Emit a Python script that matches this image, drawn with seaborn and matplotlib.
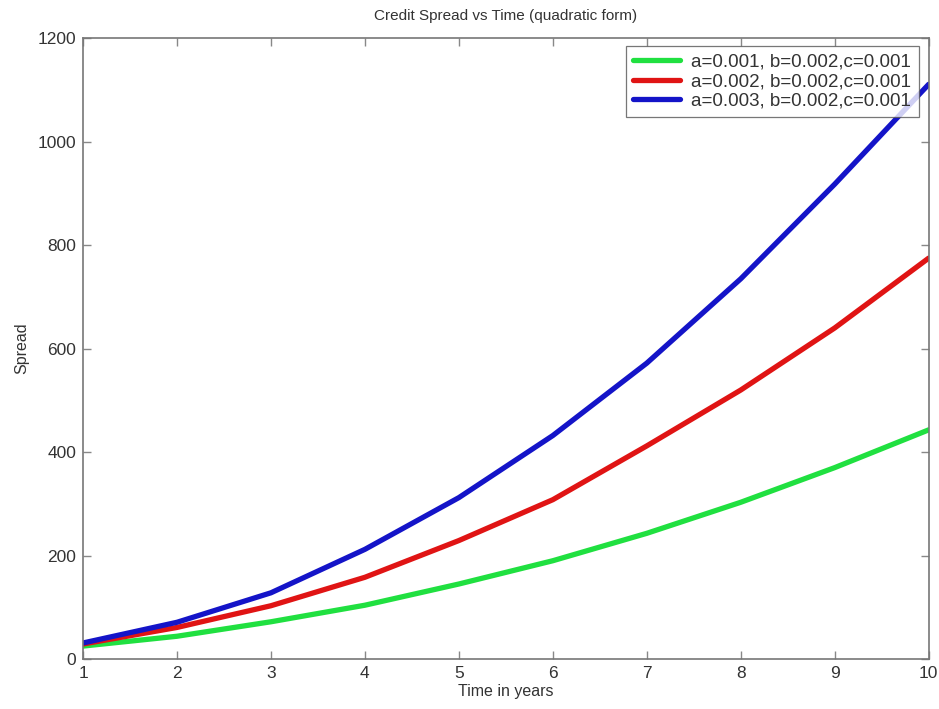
import matplotlib
matplotlib.use("Agg")
import matplotlib.pyplot as plt
import seaborn as sns
import pandas as pd

years = [1, 2, 3, 4, 5, 6, 7, 8, 9, 10]
labels = ["a=0.001, b=0.002,c=0.001",
          "a=0.002, b=0.002,c=0.001",
          "a=0.003, b=0.002,c=0.001"]
spread_a1 = [25, 44, 72, 104, 145, 190, 243, 303, 370, 443]
spread_a2 = [29, 61, 103, 158, 229, 308, 412, 520, 640, 775]
spread_a3 = [31, 71, 128, 212, 312, 432, 572, 735, 918, 1111]
colors = ["#20e040", "#e01414", "#1414c8"]

df = pd.DataFrame({
    "t": years * 3,
    "s": spread_a1 + spread_a2 + spread_a3,
    "case": [labels[0]] * 10 + [labels[1]] * 10 + [labels[2]] * 10,
})

sns.set_style("white")
plt.rcParams["font.family"] = ["Liberation Sans", "DejaVu Sans"]

fig = plt.figure(figsize=(9.39, 7.09), dpi=100)
ax = fig.add_axes([0.0884, 0.0705, 0.9006, 0.8755])

sns.lineplot(data=df, x="t", y="s", hue="case", hue_order=labels,
             palette=colors, linewidth=3.8, ax=ax)

ax.set_xlim(1, 10)
ax.set_ylim(0, 1200)
ax.set_xticks(range(1, 11))
ax.set_yticks(range(0, 1201, 200))
ax.set_title("Credit Spread vs Time (quadratic form)", fontsize=11,
             color="#333333", pad=13)
ax.set_xlabel("Time in years", fontsize=11.5, color="#333333", labelpad=2)
ax.set_ylabel("Spread", fontsize=11.5, color="#333333", labelpad=6)

for sp in ax.spines.values():
    sp.set_visible(True)
    sp.set_color("#777777")
    sp.set_linewidth(1.2)
ax.tick_params(direction="in", length=6, width=1, color="#888888",
               labelsize=12.5, labelcolor="#333333",
               top=True, right=True, bottom=True, left=True, pad=5)

leg = ax.legend(loc="upper right", bbox_to_anchor=(0.9885, 0.987),
                fontsize=13.5, frameon=True, fancybox=False,
                borderaxespad=0.0, handlelength=2.5, labelspacing=0.12,
                borderpad=0.4, handletextpad=0.6)
leg.get_frame().set_edgecolor("#555555")
leg.get_frame().set_linewidth(0.9)
for line in leg.get_lines():
    line.set_linewidth(3.8)
for txt in leg.get_texts():
    txt.set_color("#333333")

fig.savefig("out.png", dpi=100)
